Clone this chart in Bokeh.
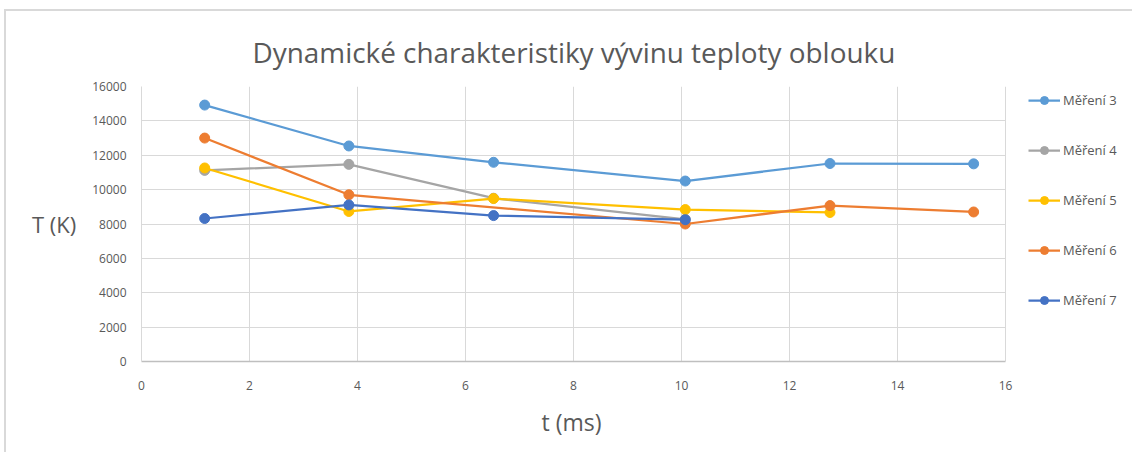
from bokeh.plotting import figure
from bokeh.models import Legend, LegendItem, FixedTicker, SingleIntervalTicker, Range1d, Title
from bokeh.embed import file_html
from bokeh.resources import INLINE

# Data
x3 = [1.17, 3.84, 6.52, 10.07, 12.75, 15.41]
y3 = [14920, 12540, 11590, 10500, 11520, 11500]
x4 = [1.17, 3.84, 6.52, 10.07]
y4 = [11120, 11470, 9500, 8270]
x5 = [1.17, 3.84, 6.52, 10.07, 12.75]
y5 = [11260, 8730, 9480, 8840, 8670]
x6 = [1.17, 3.84, 10.07, 12.75, 15.41]
y6 = [13000, 9700, 8000, 9070, 8700]
x7 = [1.17, 3.84, 6.52, 10.07]
y7 = [8320, 9110, 8490, 8250]

x_ticks = [0, 2, 4, 6, 8, 10, 12, 14, 16]

series = [
    ("Měření 3", x3, y3, "#5B9BD5"),
    ("Měření 4", x4, y4, "#A5A5A5"),
    ("Měření 5", x5, y5, "#FFC000"),
    ("Měření 6", x6, y6, "#ED7D31"),
    ("Měření 7", x7, y7, "#4472C4"),
]

FONT = "Open Sans"
GREY = "#595959"

# frame: 0..16 ms over 864 px; extra room on the right holds the legend
FRAME_W = 987
X_END = 16 * FRAME_W / 864.0

p = figure(width=1128, height=443, output_backend="svg", toolbar_location=None,
           x_range=Range1d(0, X_END), y_range=Range1d(0, 16000),
           min_border_left=135, min_border_right=6, min_border_top=75, min_border_bottom=93,
           styles={"border-top": "2px solid #D9D9D9", "border-left": "2px solid #D9D9D9",
                   "margin-top": "9px", "margin-left": "4px"})

p.title.text = "Dynamické charakteristiky vývinu teploty oblouku"
p.title.align = "left"
p.title.offset = 111
p.title.text_font = FONT
p.title.text_font_style = "normal"
p.title.text_font_size = "27.9px"
p.title.text_color = GREY
p.title.text_line_height = 1.0
p.title.standoff = 32

p.outline_line_color = None
p.background_fill_color = "white"
p.border_fill_color = "white"

p.xaxis.ticker = FixedTicker(ticks=x_ticks)
p.yaxis.ticker = SingleIntervalTicker(interval=2000)
p.xaxis.bounds = (0, 16)
for ax in (p.xaxis, p.yaxis):
    ax.major_tick_line_color = None
    ax.minor_tick_line_color = None
    ax.major_label_text_font = FONT
    ax.major_label_text_font_size = "12px"
    ax.major_label_text_color = GREY
    ax.axis_label_text_font = FONT
    ax.axis_label_text_font_style = "normal"
    ax.axis_label_text_color = GREY
p.yaxis.axis_label_text_font_size = "22px"
p.xaxis.axis_line_color = "#BFBFBF"
p.xaxis.axis_line_width = 1.5
p.yaxis.axis_line_color = "#D9D9D9"
p.xaxis.major_label_standoff = 13
p.yaxis.major_label_standoff = 9
p.yaxis.axis_label = "T (K)"
p.yaxis.axis_label_orientation = "horizontal"
p.yaxis.axis_label_standoff = 13

# x-axis title, centred under the 0..16 part of the frame
xtitle = Title(text="t (ms)", align="left", offset=400, text_font=FONT,
               text_font_style="normal", text_font_size="23px", text_color=GREY,
               standoff=23)
p.add_layout(xtitle, "below")

p.xgrid.grid_line_color = "#D9D9D9"
p.ygrid.grid_line_color = "#D9D9D9"
p.ygrid.cross_bounds = (0, 16)

items = []
for name, xs, ys, col in series:
    r1 = p.line(xs, ys, line_color=col, line_width=2.25)
    r2 = p.scatter(xs, ys, size=10, fill_color=col, line_color=col)
    items.append(LegendItem(label=name, renderers=[r1, r2]))

legend = Legend(items=items, location=(887, 51), orientation="vertical",
                glyph_width=32, glyph_height=20, label_standoff=3, spacing=30,
                padding=0, margin=0, border_line_color=None, background_fill_alpha=0,
                label_text_font=FONT, label_text_font_size="13px", label_text_color=GREY)
p.add_layout(legend, "center")

open("out.html", "w").write(file_html(p, INLINE))
